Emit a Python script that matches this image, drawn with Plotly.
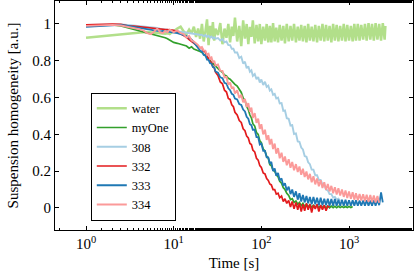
import plotly.graph_objects as go

# Shared sampling times [s]
TIME = [1, 1.5, 2, 2.5, 3, 3.5, 4, 4.5, 5, 5.5, 6, 6.5, 7, 7.5, 8, 8.5, 9, 9.5, 10,
        11, 12, 13, 14, 15, 16, 17, 18, 19, 20,
        21, 22, 23, 24, 25, 26, 27, 28, 29, 30,
        32, 34, 36, 38, 40, 42, 44, 46, 48, 50,
        53, 56, 59, 62, 65, 68, 71, 74, 77, 80,
        84, 88, 92, 96, 100, 105, 110, 115, 120, 125,
        130, 136, 142, 148, 155, 162, 170, 178, 186, 195,
        205, 215, 225, 236, 248, 260, 272, 285, 298, 312,
        327, 342, 358, 375, 393, 412, 432, 453, 475, 498,
        522, 547, 573, 600, 629, 659, 690, 723, 757, 793,
        831, 871, 912, 955, 1000, 1050, 1100, 1150, 1200, 1260,
        1320, 1380, 1450, 1520, 1590, 1670, 1750, 1830, 1920, 2010,
        2110, 2210, 2320, 2430, 2550, 2600]

WATER = [.925, .932, .938, .943, .947, .95, .953, .955, .957, .955, .952, .95, .948, .945, .947, .95, .945, .955, .96,
         .975, .985, .96, .945, .97, .95, .985, .93, .975, .92,
         1.0, .905, .96, 1.025, .885, .99, .93, 1.01, .91, .975,
         .94, 1.005, .89, .975, .925, 1.0, .9, .985, .935, 1.035,
         .905, .99, .88, 1.02, .92, 1.0, .89, .985, .93, 1.02,
         .895, .995, .905, 1.0, .89, .985, .91, 1.0, .9, .99,
         .9, 1.005, .905, .98, .9, .995, .91, .99, .895, 1.0,
         .905, .99, .91, 1.0, .9, .985, .91, .995, .905, .99,
         .9, 1.0, .91, .985, .905, .995, .9, .99, .91, 1.0,
         .905, .995, .91, .99, .9, 1.0, .91, .995, .905, .99,
         .91, 1.0, .905, .995, .91, .99, .905, 1.0, .91, 1.0,
         .91, .995, .915, 1.0, .91, 1.005, .915, 1.0, .91, 1.005,
         .915, 1.0, .91, 1.005, .915, .99]

MYONE = [.99, .995, .995, .99, .98, .97, .962, .955, .95, .945, .94, .937, .935, .93, .925, .92, .912, .905, .9,
         .895, .89, .885, .88, .868, .876, .864, .86, .855, .85,
         .845, .835, .83, .82, .81, .8, .795, .785, .78, .77,
         .76, .745, .738, .722, .718, .705, .7, .688, .682, .672,
         .662, .64, .628, .598, .585, .552, .535, .505, .49, .458,
         .445, .41, .4, .365, .355, .32, .31, .28, .27, .235,
         .23, .205, .2, .18, .17, .145, .135, .11, .1, .08,
         .068, .045, .05, .03, .038, .02, .03, .012, .025, .008,
         .02, .005, .018, .004, .015, .004, .012, .002, .012, .003,
         .01, .002, .01, .001, .01, .001, .009, .001, .009, .002,
         .008, .002, .008, .002, .008, .002, .008]

S308 = [.995, .998, 1.0, .998, .995, .992, .99, .988, .985, .983, .98, .978, .975, .973, .972, .97, .968, .966, .965,
        .962, .96, .958, .955, .953, .95, .948, .946, .943, .94,
        .942, .933, .94, .93, .936, .926, .932, .922, .928, .92,
        .924, .91, .918, .9, .905, .885, .885, .865, .865, .845,
        .845, .815, .822, .785, .795, .76, .77, .74, .748, .718,
        .728, .7, .712, .682, .698, .668, .686, .658, .665, .638,
        .645, .615, .62, .595, .6, .568, .57, .528, .53, .488,
        .485, .448, .45, .402, .405, .362, .36, .328, .318, .282,
        .278, .248, .238, .208, .208, .178, .178, .152, .152, .128,
        .125, .1, .095, .075, .075, .056, .06, .046, .05, .038]

S332 = [.995, 1.0, 1.0, .998, .99, .988, .985, .98, .978, .975, .975, .973, .97, .972, .97, .97, .968, .968, .965,
        .958, .948, .938, .928, .915, .905, .898, .89, .88, .87,
        .868, .852, .848, .822, .815, .796, .79, .768, .762, .738,
        .72, .685, .675, .64, .63, .595, .59, .56, .55, .52,
        .505, .475, .465, .43, .42, .39, .38, .35, .345, .315,
        .305, .27, .26, .23, .22, .19, .185, .16, .15, .13,
        .125, .1, .1, .075, .08, .055, .065, .035, .05, .025,
        .04, .005, .035, -.005, .03, -.01, .025, -.02, .02, -.015,
        .025, -.01, .02, -.025, .015, -.005, .02, -.02, .015, -.01,
        .015, -.015, .01, .005]

S333 = [.985, .99, .995, .995, .99, .985, .978, .975, .97, .968, .965, .962, .96, .962, .96, .958, .96, .958, .955,
        .95, .945, .94, .935, .925, .915, .9, .885, .87, .855,
        .85, .832, .83, .806, .805, .786, .784, .766, .764, .742,
        .735, .71, .705, .68, .675, .65, .64, .62, .615, .595,
        .59, .565, .56, .535, .525, .495, .485, .455, .45, .425,
        .425, .385, .385, .345, .35, .31, .31, .275, .275, .24,
        .25, .2, .215, .175, .19, .15, .16, .12, .135, .095,
        .115, .075, .1, .06, .09, .045, .08, .035, .07, .03,
        .065, .025, .06, .02, .06, .02, .055, .015, .055, .015,
        .05, .015, .05, .012, .048, .012, .048, .012, .045, .012,
        .045, .012, .045, .012, .042, .012, .042, .012, .042, .012,
        .04, .012, .04, .012, .042, .012, .04, .012, .042, .012,
        .045, .015, .085, .03]

S334 = [.99, .995, .995, .992, .985, .978, .972, .965, .95, .945, .96, .975, .955, .95, .962, .955, .97, .96, .955,
        .965, .95, .945, .925, .935, .91, .905, .895, .885, .87,
        .875, .855, .855, .832, .838, .812, .818, .792, .8, .775,
        .78, .745, .745, .71, .712, .67, .682, .648, .658, .622,
        .64, .598, .615, .575, .592, .548, .57, .522, .545, .49,
        .515, .462, .485, .43, .455, .4, .425, .37, .395, .345,
        .375, .32, .35, .295, .325, .27, .3, .25, .28, .232,
        .265, .218, .25, .205, .238, .195, .225, .18, .213, .168,
        .198, .155, .185, .14, .172, .128, .16, .118, .15, .108,
        .14, .098, .13, .09, .12, .08, .113, .073, .107, .067,
        .1, .06, .095, .054, .09, .05, .085, .045, .08, .042,
        .076, .04, .074, .036, .072, .034, .07, .032, .068, .03,
        .065, .028]

SERIES = [("water", WATER, "#b2df8a", 2.5),
          ("myOne", MYONE, "#33a02c", 1.7),
          ("308", S308, "#a6cee3", 1.9),
          ("332", S332, "#e31a1c", 1.7),
          ("333", S333, "#1f78b4", 1.8),
          ("334", S334, "#fb9a99", 1.9)]

X_TICKS = [1, 10, 100, 1000]
X_TICKTEXT = ["10<sup>0</sup>", "10<sup>1</sup>", "10<sup>2</sup>", "10<sup>3</sup>"]
Y_TICKS = [0, 0.2, 0.4, 0.6, 0.8, 1]
Y_TICKTEXT = ["0", "0.2", "0.4", "0.6", "0.8", "1"]

FONT = "Liberation Serif, DejaVu Serif, serif"

fig = go.Figure()
for name, vals, color, w in SERIES:
    fig.add_trace(go.Scatter(x=TIME[:len(vals)], y=vals, mode="lines", name=name,
                             line=dict(color=color, width=w)))

fig.update_layout(
    width=416, height=280,
    margin=dict(l=55, r=3, t=1, b=50, autoexpand=False),
    paper_bgcolor="white", plot_bgcolor="white",
    font=dict(family=FONT, size=15, color="black"),
    showlegend=True,
    legend=dict(x=0.1, y=0.6, xanchor="left", yanchor="top",
                bordercolor="black", borderwidth=1, bgcolor="white",
                font=dict(family=FONT, size=12.5), itemwidth=30,
                tracegroupgap=0),
)
fig.update_xaxes(type="log", range=[-0.354, 3.73], automargin=False,
                 tickvals=X_TICKS, ticktext=X_TICKTEXT,
                 ticks="inside", ticklen=4, tickcolor="black",
                 tickfont=dict(family=FONT, size=15),
                 minor=dict(ticks="inside", ticklen=2.5, tickcolor="black", showgrid=False),
                 showline=True, linecolor="black", linewidth=0.8, mirror="allticks",
                 showgrid=False, zeroline=False,
                 title=dict(text="Time [s]", font=dict(family=FONT, size=15), standoff=6))
fig.update_yaxes(range=[-0.12, 1.125], automargin=False,
                 tickvals=Y_TICKS, ticktext=Y_TICKTEXT,
                 ticks="inside", ticklen=4, tickcolor="black",
                 tickfont=dict(family=FONT, size=15),
                 showline=True, linecolor="black", linewidth=0.8, mirror="allticks",
                 showgrid=False, zeroline=False,
                 title=dict(text="Suspension homogeneity [a.u.]", font=dict(family=FONT, size=15), standoff=10))

fig.write_html("out.html", config={"displayModeBar": False},
               post_script="document.body.style.margin='0';document.body.style.padding='0';")
